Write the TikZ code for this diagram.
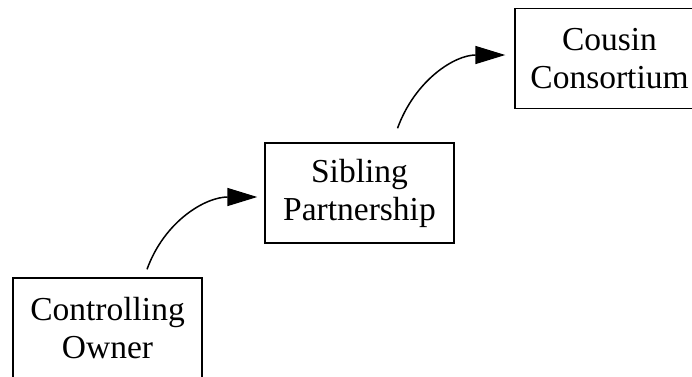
\documentclass[tikz,border=0pt]{standalone}
\usepackage{fontspec}
\setmainfont{Liberation Serif}
\usetikzlibrary{arrows.meta}
\tikzset{
  stagebox/.style={draw, line width=1.4pt, minimum width=189pt, minimum height=100pt,
    inner sep=0pt, align=center, font=\fontsize{33.5pt}{38pt}\selectfont},
  flowarrow/.style={line width=1.5pt, -{Triangle[length=30pt,width=18pt]}, out=70, in=180}
}
\begin{document}
\begin{tikzpicture}[x=1pt,y=-1pt]
\clip (0,0) rectangle (692,376);
\node[stagebox] (co) at (107.5,328) {Controlling\\Owner};
\node[stagebox] (sp) at (359.5,193) {Sibling\\Partnership};
\node[stagebox] (cc) at (609.5,58.5) {Cousin\\Consortium};
\coordinate (a1s) at ([xshift=39.5pt,yshift=8pt]co.north);
\coordinate (a1e) at ([xshift=-7pt,yshift=-4pt]sp.west);
\coordinate (a2s) at ([xshift=38pt,yshift=14pt]sp.north);
\coordinate (a2e) at ([xshift=-9pt,yshift=3.5pt]cc.west);
\draw[flowarrow] (a1s) to (a1e);
\draw[flowarrow] (a2s) to (a2e);
\end{tikzpicture}
\end{document}
